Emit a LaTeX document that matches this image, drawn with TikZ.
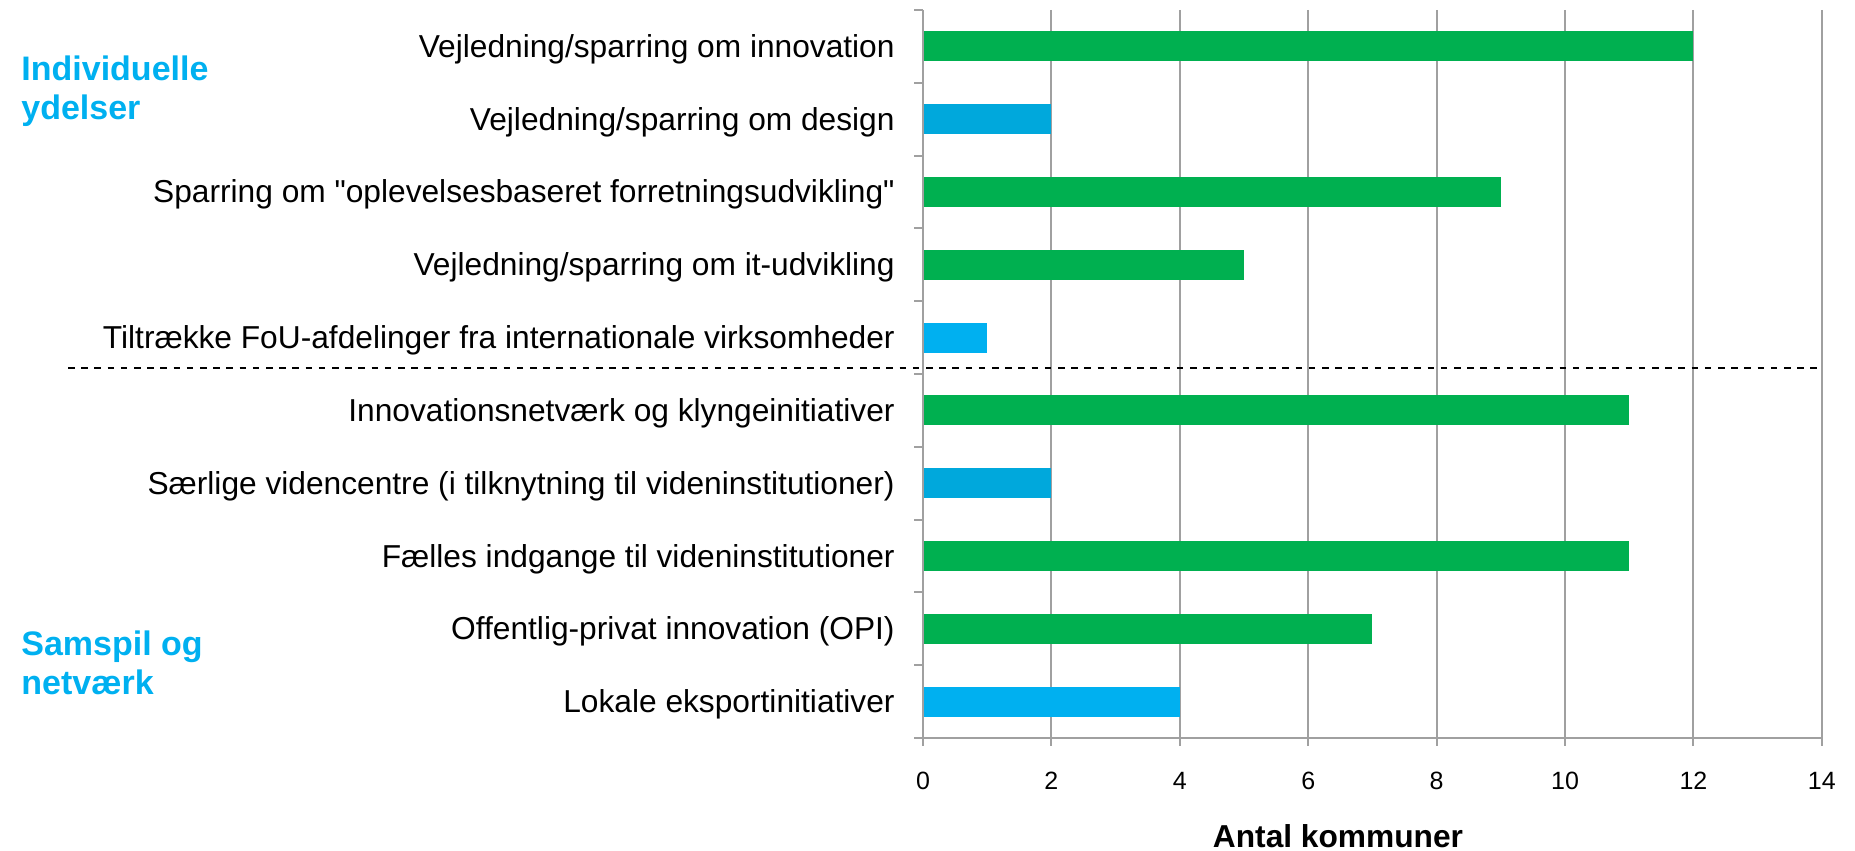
\documentclass[tikz,border=0pt]{standalone}
\usepackage{fontspec}
\setmainfont{Liberation Sans}
\usetikzlibrary{positioning}
\definecolor{balkgroen}{RGB}{0,176,80}
\definecolor{balkblaa}{RGB}{0,168,220}
\definecolor{lyseblaa}{RGB}{0,176,240}
\definecolor{gitter}{RGB}{160,160,160}
\tikzset{
	gitterlinje/.style={draw=gitter, line width=1pt},
	etiket/.style={anchor=base east, inner sep=0pt, font=\fontsize{15.85}{19}\selectfont},
	talmaerke/.style={anchor=base, inner sep=0pt, font=\fontsize{12.5}{14}\selectfont},
	gruppe/.style={anchor=base west, inner sep=0pt, text=lyseblaa, font=\fontsize{17}{19.5}\selectfont\bfseries},
}

\begin{document}
\begin{tikzpicture}[x=0.5pt, y=-0.5pt]
		\useasboundingbox(0, 0) rectangle (1855, 850);
		% gitter og akser
		\foreach \v in {2,4,...,14}
			\draw[gitterlinje]({923+64.2*\v}, 10)--({923+64.2*\v}, 746);
		\foreach \k in {0,...,10}
			\draw[gitterlinje](914, {10+72.8*\k})--(923, {10+72.8*\k});
		\draw[gitterlinje](923, 10)--(923, 746);
		\draw[gitterlinje](914, 738)--(1822, 738);
		% balker
		\foreach \val/\farve/\tekst [count=\i from 0] in {
			12/balkgroen/{Vejledning/sparring om innovation},
			2/balkblaa/{Vejledning/sparring om design},
			9/balkgroen/{Sparring om \textquotedbl oplevelsesbaseret forretningsudvikling\textquotedbl},
			5/balkgroen/{Vejledning/sparring om it-udvikling},
			1/lyseblaa/{Tiltrække FoU-afdelinger fra internationale virksomheder},
			11/balkgroen/{Innovationsnetværk og klyngeinitiativer},
			2/balkblaa/{Særlige videncentre (i tilknytning til videninstitutioner)},
			11/balkgroen/{Fælles indgange til videninstitutioner},
			7/balkgroen/{Offentlig-privat innovation (OPI)},
			4/lyseblaa/{Lokale eksportinitiativer}}{
			\fill[\farve](924, {46.4+72.8*\i-15}) rectangle ({923+64.2*\val}, {46.4+72.8*\i+15});
			\node[etiket](lab\i) at (895, {46.4+72.8*\i+11}){\tekst};
		}
		\draw[line width=1.1pt, dash pattern=on 3.3pt off 3.3pt](68, 368)--(1822, 368);
		% talmaerker
		\foreach \v in {0,2,...,14}
			\node[talmaerke](tal\v) at ({923+64.2*\v}, 789){\v};
		\node[anchor=base, inner sep=0pt, font=\fontsize{15.85}{19}\selectfont\bfseries](akse) at (1338, 847){Antal kommuner};
		% grupper
		\node[gruppe](indiv1) at (21, 81){Individuelle};
		\node[gruppe](indiv2) at (21, 120){ydelser};
		\node[gruppe](samspil1) at (21, 655){Samspil og};
		\node[gruppe](samspil2) at (21, 694){netværk};
	\end{tikzpicture}
\end{document}
